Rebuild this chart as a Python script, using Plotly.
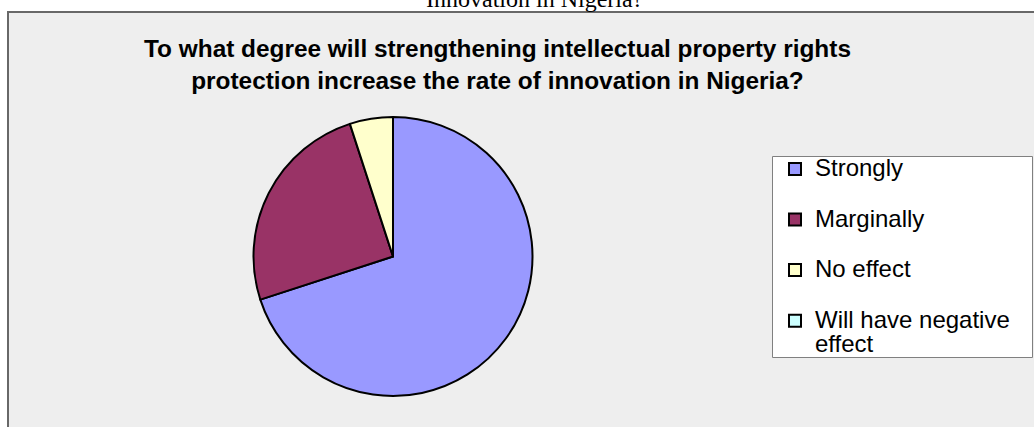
import textwrap
import plotly.graph_objects as go

# Survey responses (share of respondents, %)
categories = ["Strongly", "Marginally", "No effect", "Will have negative effect"]
shares = [70, 25, 5, 0]
slice_colors = ["#9999FF", "#993366", "#FFFFCC", "#CCFFFF"]

chart_title = ("To what degree will strengthening intellectual property rights<br>"
               "protection increase the rate of innovation in Nigeria?")
caption_above = "Innovation in Nigeria?"

W, H = 1034, 427
TEXT_PX = 24          # visible legend text size
LEGEND_LINE = 18.3    # legend font size that sets the row pitch


def px_x(x):
    return x / W


def px_y(y):
    return 1 - y / H


def legend_entry(name):
    # wrap long names; pad single-line names with an empty line so rows are evenly spaced
    lines = textwrap.wrap(name, 18)
    if len(lines) == 1:
        lines.append("")
    return "<br>".join(
        f'<span style="font-size:{TEXT_PX}px">{ln}</span>' if ln else "" for ln in lines
    )


legend_labels = [legend_entry(c) for c in categories]

cx, cy, r = 393, 256.5, 139.5

fig = go.Figure(
    go.Pie(
        labels=legend_labels,
        values=shares,
        sort=False,
        direction="clockwise",
        rotation=0,
        textinfo="none",
        hoverinfo="skip",
        marker=dict(colors=slice_colors, line=dict(color="#000000", width=2)),
        domain=dict(x=[px_x(cx - r), px_x(cx + r)], y=[px_y(cy + r), px_y(cy - r)]),
    )
)

fig.update_layout(
    width=W,
    height=H,
    margin=dict(l=0, r=0, t=0, b=0),
    paper_bgcolor="#FFFFFF",
    showlegend=True,
    legend=dict(
        x=px_x(775),
        y=px_y(150.5),
        xanchor="left",
        yanchor="top",
        valign="top",
        bgcolor="rgba(0,0,0,0)",
        borderwidth=0,
        traceorder="normal",
        font=dict(family="Liberation Sans, Arial, sans-serif", size=LEGEND_LINE, color="#000000"),
    ),
    shapes=[
        # chart area frame
        dict(type="rect", xref="paper", yref="paper", layer="below",
             x0=px_x(8), x1=px_x(W + 20), y0=px_y(H + 20), y1=px_y(12),
             fillcolor="#EEEEEE", line=dict(color="#686868", width=2)),
        # legend box
        dict(type="rect", xref="paper", yref="paper", layer="below",
             x0=px_x(772.5), x1=px_x(1032.5), y0=px_y(357.5), y1=px_y(156.5),
             fillcolor="#FFFFFF", line=dict(color="#808080", width=1)),
    ],
    annotations=[
        dict(text=chart_title, xref="paper", yref="paper",
             x=px_x(497), y=px_y(33), xanchor="center", yanchor="top",
             showarrow=False, align="center",
             font=dict(family="Liberation Sans, Arial, sans-serif", size=24.4,
                       color="#000000", weight="bold")),
        dict(text=caption_above, xref="paper", yref="paper",
             x=px_x(534), y=px_y(14), xanchor="center", yanchor="bottom",
             showarrow=False,
             font=dict(family="Liberation Serif, Times New Roman, serif", size=24,
                       color="#000000")),
    ],
)

fig.write_html("out.html")
